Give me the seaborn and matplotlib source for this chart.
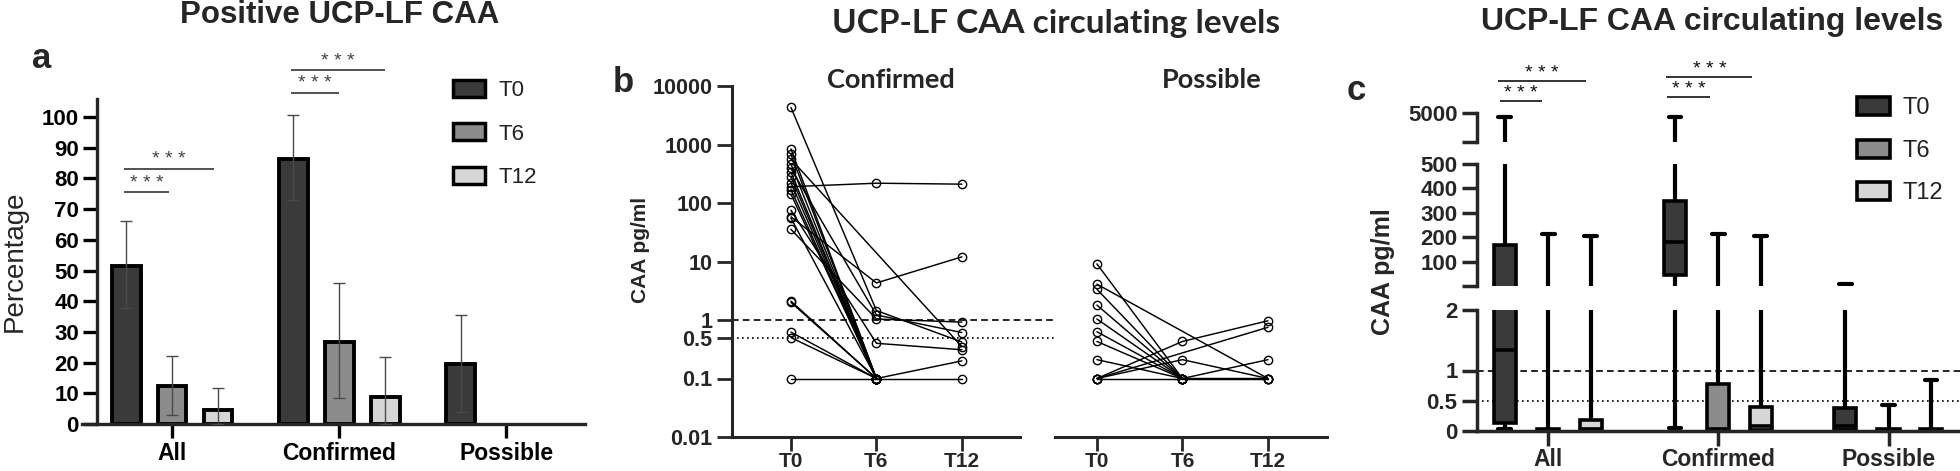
import numpy as np
import pandas as pd
import matplotlib
matplotlib.use("Agg")
import matplotlib.pyplot as plt
import matplotlib.transforms as mtransforms
from matplotlib import font_manager
from matplotlib.patches import Patch
from matplotlib.ticker import NullLocator
import seaborn as sns

# ---------------- data ----------------
groups = ["All", "Confirmed", "Possible"]
times = ["T0", "T6", "T12"]
time_colors = ["#3a3a3a", "#8c8c8c", "#d6d6d6"]

# a) % positive UCP-LF CAA (group x time), with CI
pct_pos = [51.5, 12.4, 4.6, 86.4, 26.8, 8.9, 19.5, 0.0, 0.0]
ci_low = [37.8, 3.0, 0.0, 73.0, 8.4, 0.0, 4.0, 0.0, 0.0]
ci_high = [66.0, 22.2, 11.7, 100.7, 45.9, 21.8, 35.5, 0.0, 0.0]

# b) individual CAA levels (pg/ml), nan = missing visit
nan = np.nan
conf_t0 = [4300, 840, 680, 560, 465, 390, 335, 280, 222, 190, 170,
           142, 75, 58, 55, 35.5, 2.1, 2.0, 0.62, 0.5, 0.1]
conf_t6 = [1.45, 0.1, 0.1, nan, 0.1, 1.22, 0.1, 0.1, 0.1, 218, 0.1,
           0.1, 0.40, 4.3, 0.1, 1.04, 0.1, 0.1, 0.1, 0.1, 0.1]
conf_t12 = [0.42, nan, nan, 0.35, nan, 0.61, nan, nan, nan, 210, nan,
            nan, 0.31, 12, nan, 0.92, 0.2, nan, nan, nan, 0.1]
poss_t0 = [9.1, 4.1, 3.35, 1.8, 1.04, 0.63, 0.43, 0.21, 0.1, 0.1, 0.1, 0.1]
poss_t6 = [0.1, nan, 0.1, 0.1, 0.1, 0.1, 0.1, 0.1, 0.43, nan, 0.21, 0.1]
poss_t12 = [nan, 0.1, nan, 0.21, nan, nan, nan, 0.1, 0.97, 0.75, 0.1, 0.1]
b_ticks = [0.01, 0.1, 0.5, 1, 10, 100, 1000, 10000]
b_ticklabels = ["0.01", "0.1", "0.5", "1", "10", "100", "1000", "10000"]

# c) box summaries per group x time
box_min = [0.03, 0.0, 0.0, 0.05, 0.0, 0.0, 0.0, 0.0, 0.0]
box_q1 = [0.13, 0.0, 0.02, 46, 0.02, 0.02, 0.02, 0.0, 0.0]
box_med = [1.34, 0.02, 0.03, 181, 0.03, 0.08, 0.08, 0.02, 0.02]
box_q3 = [170, 0.04, 0.19, 351, 0.78, 0.39, 0.375, 0.04, 0.04]
box_max = [4350, 214, 207, 4350, 214, 207, 9.1, 0.43, 0.85]

# ---------------- style ----------------
sns.set_theme(style="ticks")
plt.rcParams["font.family"] = ["Liberation Sans", "DejaVu Sans"]
installed = {f.name for f in font_manager.fontManager.ttflist}
narrow = "Liberation Sans Narrow" if "Liberation Sans Narrow" in installed else "Liberation Sans"
calib = "Lato" if "Lato" in installed else "Liberation Sans"

W, H = 1960, 471
fig = plt.figure(figsize=(W / 100, H / 100), dpi=100)


def add_axes(x0, y0, x1, y1):
    # pixel box (top-left origin) -> figure axes
    return fig.add_axes([x0 / W, 1 - y1 / H, (x1 - x0) / W, (y1 - y0) / H])


def ftext(x, y, s, **kw):
    fig.text(x / W, 1 - y / H, s, **kw)


def sig(ax, x0, x1, y_line, y_star, color, lw):
    tr = mtransforms.blended_transform_factory(ax.transData, fig.transFigure)
    ax.plot([x0, x1], [1 - y_line / H] * 2, transform=tr, color=color, lw=lw,
            clip_on=False, solid_capstyle="butt")
    ax.text((x0 + x1) / 2, 1 - y_star / H, "* * *", transform=tr, ha="center",
            va="center", fontsize=14, color=color)


# ================= panel a =================
df_a = pd.DataFrame({"group": np.repeat(groups, 3), "time": times * 3,
                     "pct": pct_pos, "lo": ci_low, "hi": ci_high})
axa = add_axes(82, 99, 585, 424)
sns.barplot(data=df_a, x="group", y="pct", hue="time", order=groups,
            hue_order=times, palette=time_colors, width=0.825, gap=0.38,
            edgecolor="black", linewidth=2.8, errorbar=None, legend=False, ax=axa)
for p in axa.patches:
    if p.get_height() == 0:
        p.set_visible(False)
offs = [-0.275, 0.0, 0.275]
for k, row in df_a.iterrows():
    if row.hi <= 0:
        continue
    x = groups.index(row.group) + offs[times.index(row.time)]
    axa.errorbar(x, row.pct, yerr=[[row.pct - row.lo], [row.hi - row.pct]],
                 fmt="none", ecolor="#4a4a4a", elinewidth=1.0, capsize=4.5,
                 capthick=1.0, zorder=3)
axa.set_xlim(-0.54, 2.47)
axa.set_ylim(0, 105.9)
axa.set_yticks(range(0, 101, 10))
axa.set_xlabel("")
axa.set_ylabel("Percentage", fontsize=20)
axa.yaxis.set_label_coords(-0.108, 0.5)
sns.despine(ax=axa)
axa.spines["left"].set_position(("data", -0.45))
for s in ("left", "bottom"):
    axa.spines[s].set_linewidth(2.4)
axa.tick_params(axis="both", length=10, width=2.4, direction="out", colors="black")
axa.tick_params(axis="y", labelsize=16, pad=3)
axa.tick_params(axis="x", labelsize=16.5, pad=3)
plt.setp(axa.get_yticklabels(), fontweight="bold")
plt.setp(axa.get_xticklabels(), fontweight="bold")
sig(axa, -0.29, -0.02, 192, 183, "#444444", 1.3)
sig(axa, -0.29, 0.25, 169, 160, "#444444", 1.3)
sig(axa, 1 - 0.29, 1.0, 93, 84, "#444444", 1.3)
sig(axa, 1 - 0.29, 1.275, 70, 61, "#444444", 1.3)
handles = [Patch(facecolor=c, edgecolor="black", linewidth=2.5) for c in time_colors]
fig.legend(handles, times, loc="upper left", bbox_to_anchor=(433 / W, 1 - 60 / H),
           frameon=False, fontsize=16, handlelength=1.45, handleheight=0.8,
           labelspacing=1.0, handletextpad=0.6, labelcolor="#222222")
ftext(340, 15, "Positive UCP-LF CAA", fontsize=22.5, fontweight="bold",
      ha="center", va="center")
ftext(32, 68, "a", fontsize=25, fontweight="bold", ha="left", va="baseline")


# ================= panel b =================
def long_df(t0, t6, t12):
    rows = []
    for pid, vals in enumerate(zip(t0, t6, t12)):
        for pos, v in enumerate(vals):
            if not np.isnan(v):
                rows.append((pid, pos, v))
    return pd.DataFrame(rows, columns=["pid", "pos", "caa"])


axb1 = add_axes(732, 86, 1020, 437)
axb2 = add_axes(1055, 86, 1327, 437)
for ax, (t0, t6, t12), xl in ((axb1, (conf_t0, conf_t6, conf_t12), (-0.69, 2.68)),
                              (axb2, (poss_t0, poss_t6, poss_t12), (-0.49, 2.69))):
    sns.lineplot(data=long_df(t0, t6, t12), x="pos", y="caa", units="pid",
                 estimator=None, color="black", lw=1.05, marker="o",
                 markersize=6, markerfacecolor="none", markeredgecolor="black",
                 markeredgewidth=1.0, legend=False, ax=ax)
    ax.set_yscale("log")
    ax.set_ylim(0.01, 10000)
    ax.set_xlim(*xl)
    ax.set_xticks([0, 1, 2], times)
    ax.set_xlabel("")
    ax.set_ylabel("")
    sns.despine(ax=ax)
    ax.spines["bottom"].set_linewidth(2.2)
    ax.tick_params(axis="x", length=10, width=2.0, pad=1, labelsize=15)
    plt.setp(ax.get_xticklabels(), fontweight="bold", family=[narrow, "DejaVu Sans"])
    ax.yaxis.set_minor_locator(NullLocator())

axb1.set_yticks(b_ticks, b_ticklabels)
axb1.spines["left"].set_linewidth(2.2)
axb1.tick_params(axis="y", length=11, width=2.0, pad=3, labelsize=15.5)
plt.setp(axb1.get_yticklabels(), fontweight="bold", family=[narrow, "DejaVu Sans"])
axb2.spines["left"].set_visible(False)
axb2.set_yticks([])
for yv, ls in ((1, (0, (4, 2.5))), (0.5, (0, (1, 2)))):
    axb1.plot([0, (1305 - 732) / 288], [yv, yv], transform=axb1.get_yaxis_transform(),
              color="black", lw=1.2, ls=ls, clip_on=False)
ftext(641, 250, "CAA pg/ml", fontsize=15, fontweight="bold", rotation=90,
      ha="center", va="center")
ftext(891, 80, "Confirmed", fontsize=19.5, fontweight="bold", family=calib,
      ha="center", va="center")
ftext(1212, 80, "Possible", fontsize=19.5, fontweight="bold", family=calib,
      ha="center", va="center")
ftext(1056, 24, "UCP-LF CAA circulating levels", fontsize=24, fontweight="bold",
      family=calib, ha="center", va="center")
ftext(613, 92, "b", fontsize=25, fontweight="bold", ha="left", va="baseline")

# ================= panel c =================
c_offs = [-0.255, 0.0, 0.25]
positions = [g + o for g in range(3) for o in c_offs]
segs = [((113, 142), (500, 5000), [500, 5000], ["", "5000"]),
        ((164, 286), (2, 500), [2, 100, 200, 300, 400, 500],
         ["", "100", "200", "300", "400", "500"]),
        ((310, 431), (0, 2), [0, 0.5, 1, 2], ["0", "0.5", "1", "2"])]


def seg_clamp(v, lo, hi):
    # keep values of other segments well away so thick lines don't bleed in
    span = hi - lo
    if v < lo:
        return lo - span
    if v > hi:
        return hi + span
    return v


c_axes = []
for (y0, y1), ylim, yt, ytl in segs:
    ax = add_axes(1477, y0, 1960, y1)
    lo, hi = ylim
    stats = [dict(whislo=seg_clamp(a, lo, hi), q1=seg_clamp(b, lo, hi),
                  med=seg_clamp(c, lo, hi), q3=seg_clamp(d, lo, hi),
                  whishi=seg_clamp(e, lo, hi), fliers=[])
             for a, b, c, d, e in zip(box_min, box_q1, box_med, box_q3, box_max)]
    bp = ax.bxp(stats, positions=positions, widths=0.13, capwidths=0.075,
                patch_artist=True, showfliers=False,
                boxprops=dict(linewidth=2.6, edgecolor="black"),
                whiskerprops=dict(linewidth=3.0, color="black", solid_capstyle="butt"),
                capprops=dict(linewidth=3.0, color="black"),
                medianprops=dict(linewidth=2.6, color="black"))
    for i, patch in enumerate(bp["boxes"]):
        patch.set_facecolor(time_colors[i % 3])
    ax.set_ylim(*ylim)
    ax.set_xlim(-0.418, 2.42)
    ax.set_yticks(yt, ytl)
    ax.yaxis.set_minor_locator(NullLocator())
    sns.despine(ax=ax, bottom=True)
    ax.spines["left"].set_linewidth(2.5)
    ax.tick_params(axis="y", length=11, width=2.5, pad=3, labelsize=16)
    plt.setp(ax.get_yticklabels(), fontweight="bold")
    ax.set_xticks([])
    c_axes.append(ax)

axc = c_axes[-1]
axc.spines["bottom"].set_visible(True)
axc.spines["bottom"].set_linewidth(2.5)
axc.set_xticks([0, 1, 2], groups)
axc.tick_params(axis="x", length=11, width=2.5, pad=1, labelsize=16.5)
plt.setp(axc.get_xticklabels(), fontweight="bold")
axc.axhline(1, color="black", lw=1.2, ls=(0, (4, 2.5)), zorder=0.5)
axc.axhline(0.5, color="black", lw=1.2, ls=(0, (1, 2)), zorder=0.5)
sig(axc, -0.284, -0.035, 101, 94, "#111111", 1.2)
sig(axc, -0.295, 0.22, 81, 74, "#111111", 1.2)
sig(axc, 1 - 0.30, 0.95, 96.7, 89, "#111111", 1.2)
sig(axc, 1 - 0.305, 1.2, 76.7, 69, "#111111", 1.2)
handles = [Patch(facecolor=c, edgecolor="black", linewidth=2.6) for c in time_colors]
fig.legend(handles, times, loc="upper left", bbox_to_anchor=(1836 / W, 1 - 76 / H),
           frameon=False, fontsize=17, handlelength=1.4, handleheight=0.8,
           labelspacing=0.85, handletextpad=0.5, labelcolor="#222222")
ftext(1383, 272, "CAA pg/ml", fontsize=18, fontweight="bold", rotation=90,
      ha="center", va="center")
ftext(1712, 22, "UCP-LF CAA circulating levels", fontsize=23, fontweight="bold",
      ha="center", va="center")
ftext(1347, 100, "c", fontsize=25, fontweight="bold", ha="left", va="baseline")

fig.savefig("out.png", dpi=100)
